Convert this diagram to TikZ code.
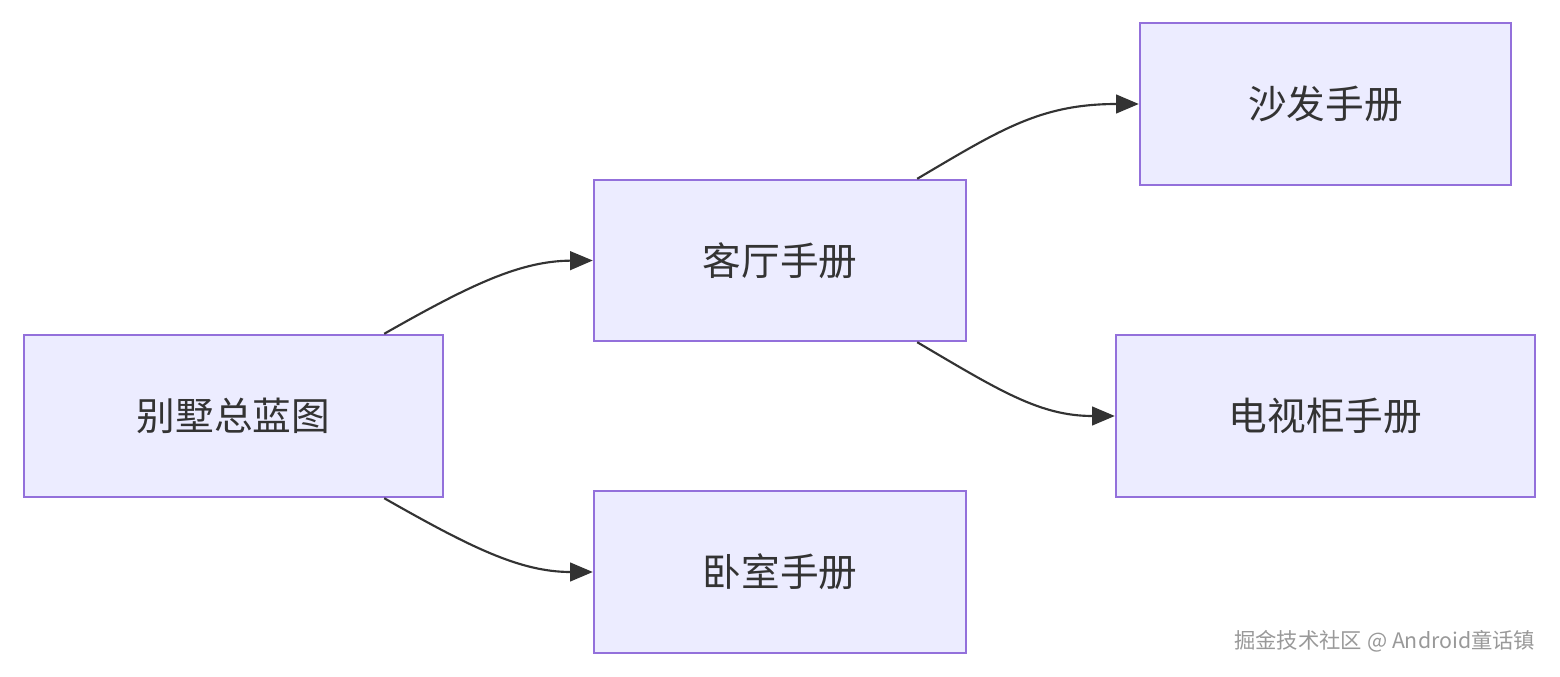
\documentclass[tikz,border=0pt]{standalone}
\usepackage{fontspec}
\setmainfont{Noto Sans CJK SC}
\usetikzlibrary{arrows.meta,calc}
\definecolor{boxfill}{HTML}{ECECFF}
\definecolor{boxdraw}{HTML}{9370DB}
\definecolor{txt}{HTML}{333333}
\begin{document}
\begin{tikzpicture}[x=0.75pt,y=-0.75pt,
  box/.style={draw=boxdraw,fill=boxfill,line width=1.8pt,inner sep=0pt,text=txt,font=\fontsize{29}{32}\selectfont},
  edge/.style={draw=txt,line width=1.6pt,-{Triangle[length=17pt,width=14pt]}}]
\useasboundingbox (0,0) rectangle (1560,677);
\node[box,minimum width=419*0.75pt,minimum height=162*0.75pt] (A) at (233.5,416) {别墅总蓝图};
\node[box,minimum width=372*0.75pt,minimum height=161*0.75pt] (B) at (780,260.5) {客厅手册};
\node[box,minimum width=372*0.75pt,minimum height=162*0.75pt] (C) at (780,572) {卧室手册};
\node[box,minimum width=371*0.75pt,minimum height=162*0.75pt] (D) at (1325.5,104) {沙发手册};
\node[box,minimum width=419*0.75pt,minimum height=162*0.75pt] (E) at (1325.5,416) {电视柜手册};
\coordinate (a1) at ($(A.north east)+(-60,0)$);
\coordinate (a2) at ($(A.south east)+(-60,0)$);
\coordinate (b1) at ($(B.north east)+(-50,0)$);
\coordinate (b2) at ($(B.south east)+(-50,0)$);
\draw[edge] (a1) .. controls (470,285) and (520,261) .. (B.west);
\draw[edge] (a2) .. controls (470,547) and (520,572) .. (C.west);
\draw[edge] (b1) .. controls (1000,130) and (1040,104) .. (D.west);
\draw[edge] (b2) .. controls (1000,391) and (1040,416) .. (E.west);
\node[text=gray!80,font=\fontsize{16}{18}\selectfont,anchor=east] (W) at (1540,641) {掘金技术社区 @ Android童话镇};
\end{tikzpicture}
\end{document}
